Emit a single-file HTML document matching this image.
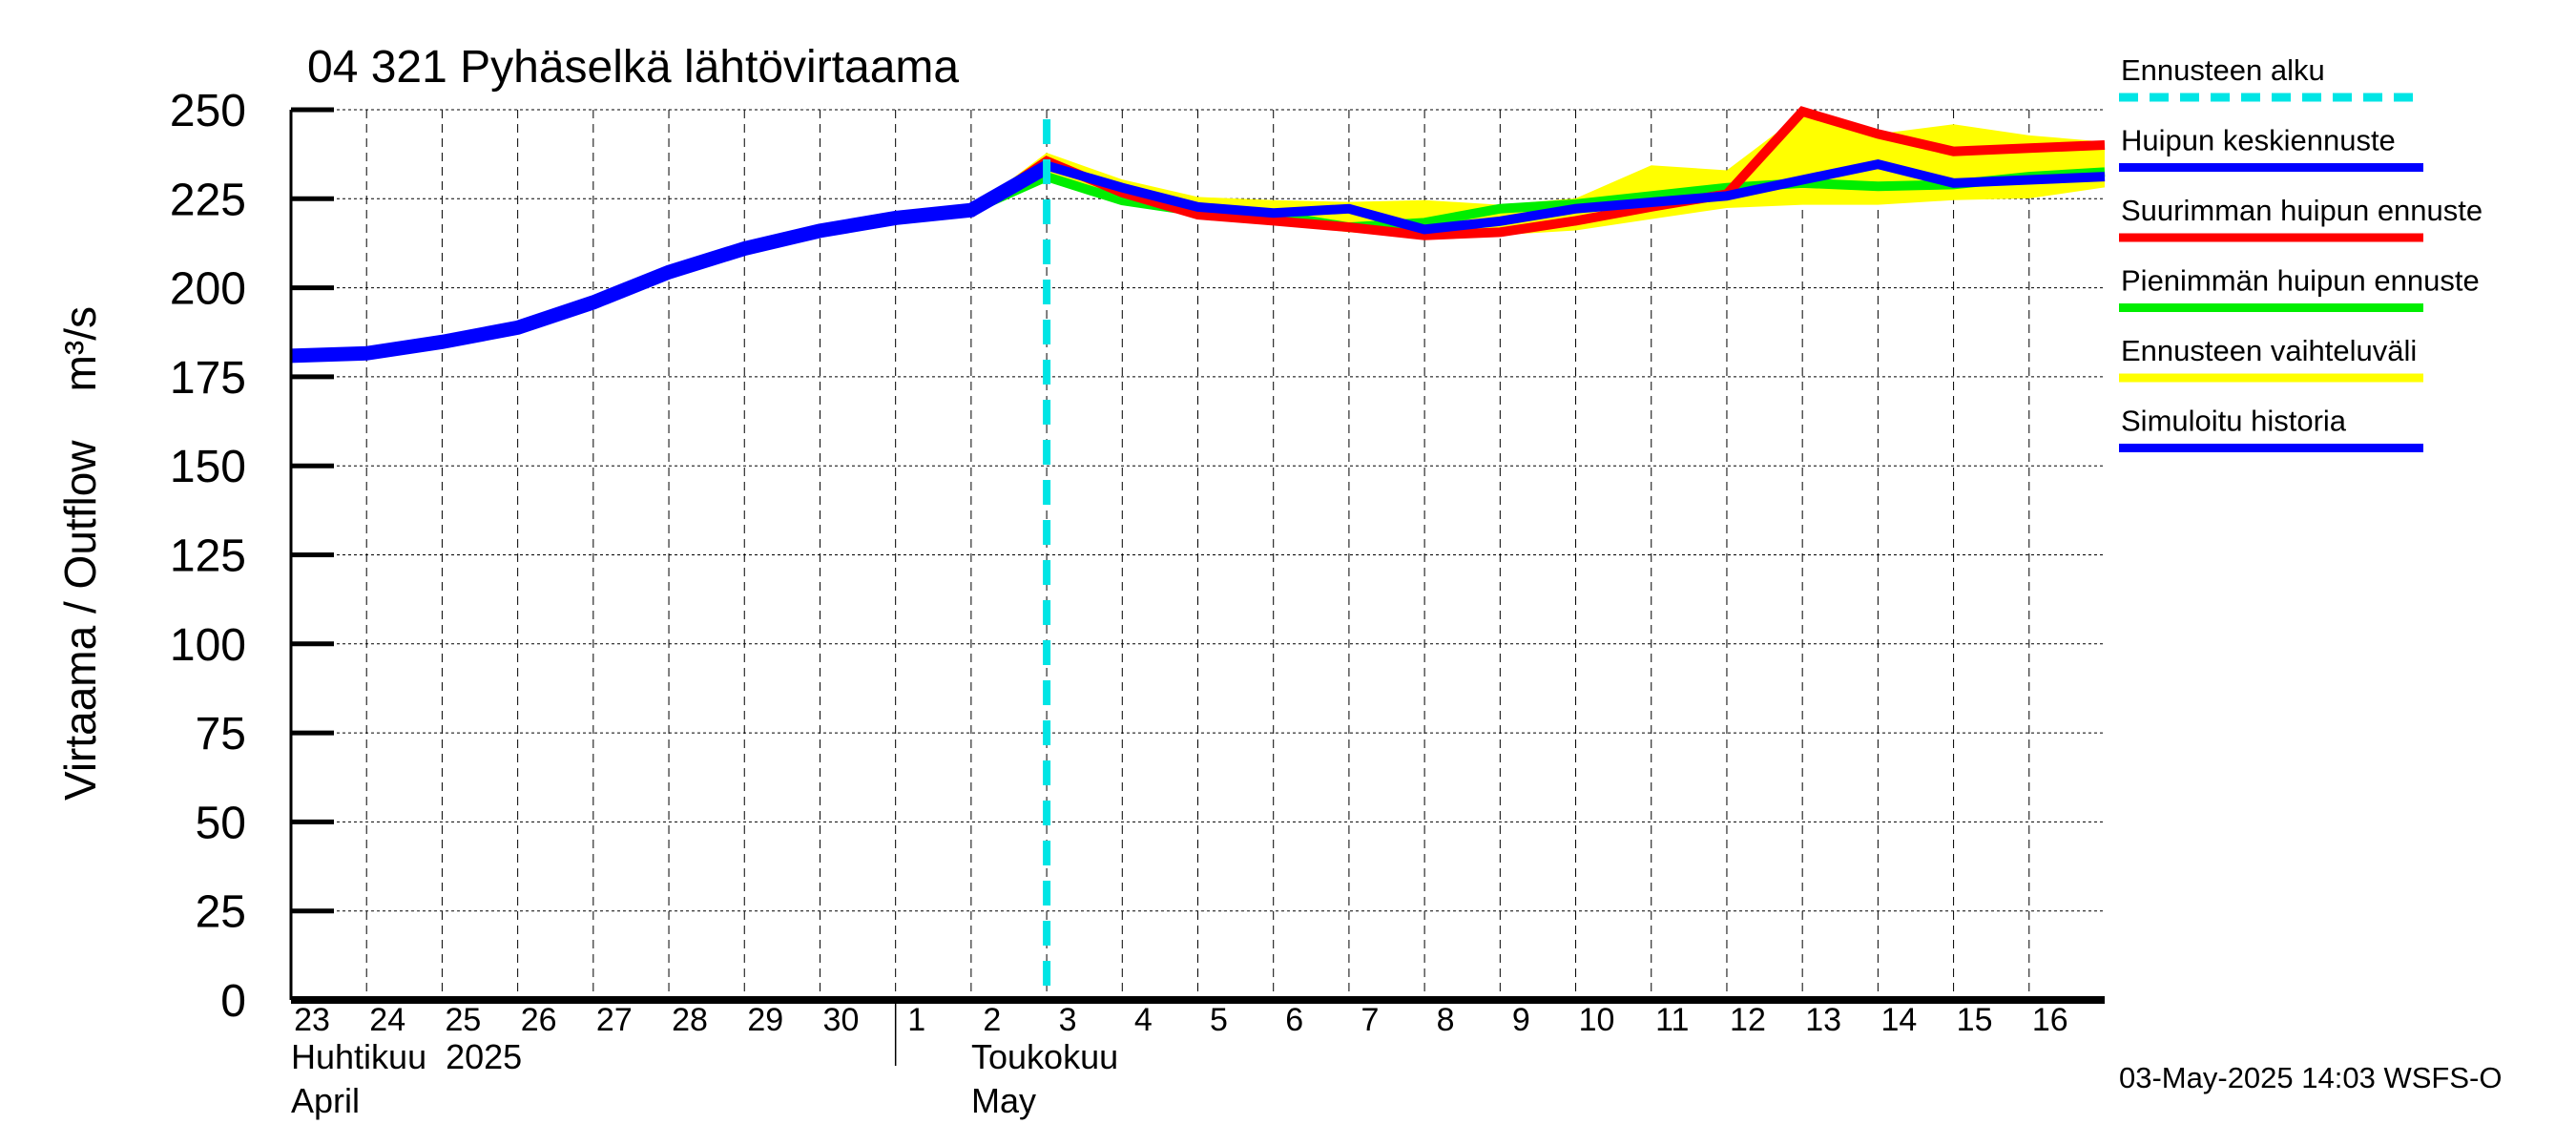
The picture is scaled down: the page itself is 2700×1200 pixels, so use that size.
<!DOCTYPE html>
<html><head><meta charset="utf-8"><style>
html,body{margin:0;padding:0;background:#fff;}
svg{display:block;font-family:"Liberation Sans",sans-serif;}
</style></head><body>
<svg id="chart" width="2700" height="1200" viewBox="0 0 2700 1200">
<rect width="2700" height="1200" fill="#fff"/>
<text x="322" y="86" font-size="48">04 321 Pyhäselkä lähtövirtaama</text>
<text transform="translate(100,580) rotate(-90)" font-size="46" text-anchor="middle" style="white-space:pre">Virtaama / Outflow&#160;&#160;&#160;&#160;m³/s</text>
<g id="grid"></g>
<g id="marks"></g>
<g id="axes"></g>
<g id="legend"></g>
<text x="2221" y="1140" font-size="31">03-May-2025 14:03 WSFS-O</text>
</svg>
<script>
const dayLabels=["23","24","25","26","27","28","29","30","1","2","3","4","5","6","7","8","9","10","11","12","13","14","15","16"];
const yTicks=[0,25,50,75,100,125,150,175,200,225,250];
const historyDays=[0,1,2,3,4,5,6,7,8,9,10];
const historyVals=[180.9,181.6,184.8,188.8,195.9,204.4,211,216,219.6,221.8,233.9];
const fcDays=[9,10,11,12,13,14,15,16,17,18,19,20,21,22,23,24];
const meanVals=[221.8,234.3,228.1,222.7,221,222.2,216.4,218.7,222.2,224,225.8,230.3,234.7,229.4,230.3,231.2];
const maxVals=[221,235.6,226.7,220.5,218.8,217,214.7,215.6,218.8,222.7,226.3,249.5,243.2,238.3,239.2,240.1];
const minVals=[221.8,231.2,224.5,221.4,220.5,217,218.3,222.2,223.5,225.8,228.1,229.4,228.5,229,231.2,232.5];
const bandHigh=[222,237.9,230.4,225.5,224.6,224.1,224.6,223.3,225.1,234.4,233,249,243.2,245.9,242.8,241];
const bandLow=[221,230.4,224.1,220.5,217.9,215.6,214.3,214.8,216.1,219.3,222.4,223.3,223.3,224.6,225.1,228.2];
const forecastStartDay=10;

const X0=305,X1=2206,Y0=1048,Y1=115,NDAYS=24,YMAX=250;
const xs=d=>X0+(X1-X0)*d/NDAYS;
const ys=v=>Y0-(Y0-Y1)*v/YMAX;
const NS="http://www.w3.org/2000/svg";
function mk(parent,tag,attrs){const e=document.createElementNS(NS,tag);for(const k in attrs)e.setAttribute(k,attrs[k]);document.getElementById(parent).appendChild(e);return e;}

for(let d=1;d<NDAYS;d++){
  const l=mk('grid','line',{x1:xs(d),x2:xs(d),y1:Y1,y2:Y0,stroke:'#000','stroke-width':1,'stroke-dasharray':'9,6'});
  
  
}
yTicks.forEach(v=>{
  if(v>0){const l=mk('grid','line',{x1:X0,x2:X1,y1:ys(v),y2:ys(v),stroke:'#000','stroke-width':1,'stroke-dasharray':'3,3'});
  
  }
  const t=mk('axes','line',{x1:X0,x2:X0+45,y1:ys(v),y2:ys(v),stroke:'#000','stroke-width':5});
  
  
  const lb=mk('axes','text',{x:258,y:ys(v)+17,'font-size':48,'text-anchor':'end'});
  lb.textContent=v;
  
  
});
let pts=fcDays.map((d,i)=>xs(d)+','+ys(bandHigh[i]));
for(let i=fcDays.length-1;i>=0;i--)pts.push(xs(fcDays[i])+','+ys(bandLow[i]));
const band=mk('marks','polygon',{points:pts.join(' '),fill:'#ffff00'});


function line(days,vals,col,w,name){
  const p=mk('marks','polyline',{points:days.map((d,i)=>xs(d)+','+ys(vals[i])).join(' '),fill:'none',stroke:col,'stroke-width':w,'stroke-linejoin':'miter'});
  
  
}
line(fcDays,minVals,'#00ee00',10,'min-peak-forecast-line');
line(fcDays,maxVals,'#ff0000',10,'max-peak-forecast-line');
line(fcDays,meanVals,'#0000ff',10,'mean-peak-forecast-line');
line(historyDays,historyVals,'#0000ff',15,'simulated-history-line');
const fs=mk('marks','line',{x1:xs(forecastStartDay),x2:xs(forecastStartDay),y1:Y1+10,y2:Y0,stroke:'#00e5e5','stroke-width':8,'stroke-dasharray':'26,16'});


const ya=mk('axes','line',{x1:X0,x2:X0,y1:Y1,y2:Y0,stroke:'#000','stroke-width':3});


const xa=mk('axes','line',{x1:X0,x2:X1,y1:Y0,y2:Y0,stroke:'#000','stroke-width':8});


dayLabels.forEach((s,i)=>{
  const t=mk('axes','text',{x:xs(i)+22,y:1080,'font-size':34,'text-anchor':'middle'});
  t.textContent=s;
  
  
});
const sep=mk('axes','line',{x1:xs(8),x2:xs(8),y1:Y0,y2:1117,stroke:'#000','stroke-width':1.5});


[["Huhtikuu  2025",305,1120],["April",305,1166],["Toukokuu",1018,1120],["May",1018,1166]].forEach(m=>{
  const t=mk('axes','text',{x:m[1],y:m[2],'font-size':36,style:'white-space:pre'});
  t.textContent=m[0];
  
  
});
[["Ennusteen alku",'#00e5e5',true],["Huipun keskiennuste",'#0000ff'],["Suurimman huipun ennuste",'#ff0000'],["Pienimmän huipun ennuste",'#00ee00'],["Ennusteen vaihteluväli",'#ffff00'],["Simuloitu historia",'#0000ff']].forEach((e,i)=>{
  const y=102+i*73.5;
  const t=mk('legend','text',{x:2223,y:y-18,'font-size':31});
  t.textContent=e[0];
  
  
  const l=mk('legend','line',{x1:2221,x2:2540,y1:y,y2:y,stroke:e[1],'stroke-width':9});
  if(e[2])l.setAttribute('stroke-dasharray','20,12');
  
  
});
</script>
</body></html>
